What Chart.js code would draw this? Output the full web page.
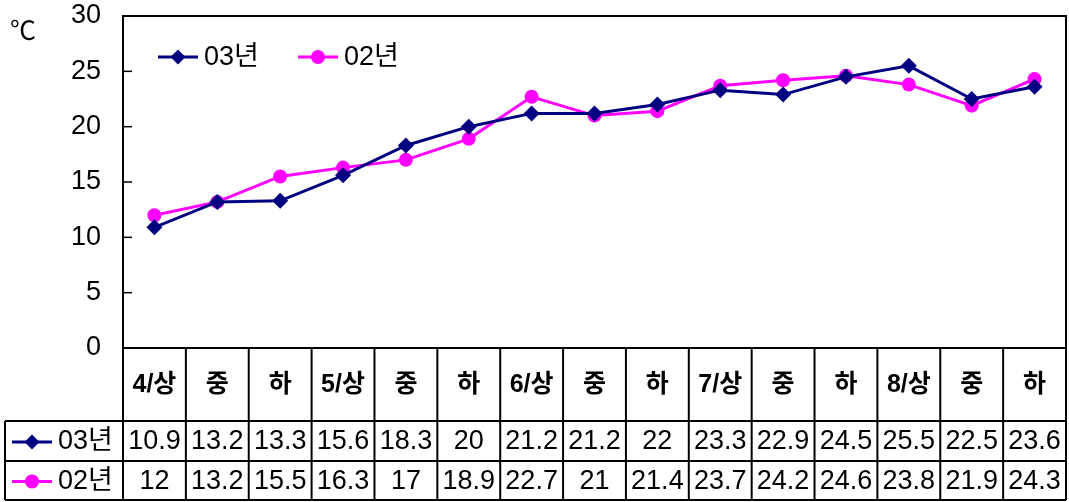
<!DOCTYPE html>
<html>
<head>
<meta charset="utf-8">
<script src="https://cdn.jsdelivr.net/npm/chart.js@4.4.1/dist/chart.umd.min.js"></script>
<style>
  body { margin: 0; background: #fff; }
  canvas { display: block; }
</style>
</head>
<body>
<canvas id="tempChart" width="1069" height="502"></canvas>
<script>
// categories (10-day periods) and series
const categories = ["4/상", "중", "하", "5/상", "중", "하", "6/상", "중", "하", "7/상", "중", "하", "8/상", "중", "하"];
const series03 = [10.9, 13.2, 13.3, 15.6, 18.3, 20, 21.2, 21.2, 22, 23.3, 22.9, 24.5, 25.5, 22.5, 23.6];
const series02 = [12, 13.2, 15.5, 16.3, 17, 18.9, 22.7, 21, 21.4, 23.7, 24.2, 24.6, 23.8, 21.9, 24.3];
const seriesNames = ["03년", "02년"];
const yTicks = [0, 5, 10, 15, 20, 25, 30];
const unitLabel = "℃";

const FONT = "'Liberation Sans', 'Noto Sans CJK KR', sans-serif";
const NAVY = "#000080";
const MAGENTA = "#FF00FF";

function drawMarker(ctx, style, x, y, r, color) {
  ctx.save();
  ctx.fillStyle = color;
  ctx.beginPath();
  if (style === "rectRot") {
    ctx.moveTo(x, y - r);
    ctx.lineTo(x + r, y);
    ctx.lineTo(x, y + r);
    ctx.lineTo(x - r, y);
    ctx.closePath();
  } else {
    ctx.arc(x, y, r, 0, Math.PI * 2);
  }
  ctx.fill();
  ctx.restore();
}

function legendSample(ctx, ds, x1, x2, y) {
  ctx.save();
  ctx.strokeStyle = ds.borderColor;
  ctx.lineWidth = 3;
  ctx.beginPath();
  ctx.moveTo(x1, y);
  ctx.lineTo(x2, y);
  ctx.stroke();
  ctx.restore();
  drawMarker(ctx, ds.pointStyle, (x1 + x2) / 2, y, ds.pointStyle === "rectRot" ? 7.5 : 7, ds.borderColor);
}

// frame, inward ticks, legend, unit label and the data table
const extrasPlugin = {
  id: "extras",
  afterDraw(chart) {
    const ctx = chart.ctx;
    const area = chart.chartArea;
    const xs = chart.scales.x;
    const ys = chart.scales.y;
    const datasets = chart.data.datasets;

    ctx.save();
    ctx.strokeStyle = "#000";
    ctx.lineWidth = 2;
    ctx.strokeRect(area.left, area.top, area.right - area.left, area.bottom - area.top);

    // inward tick marks
    yTicks.forEach(v => {
      const py = ys.getPixelForValue(v);
      ctx.beginPath();
      ctx.moveTo(area.left, py);
      ctx.lineTo(area.left + 9, py);
      ctx.lineWidth = 1.5;
      ctx.stroke();
    });

    // unit
    ctx.fillStyle = "#000";
    ctx.font = "26px " + FONT;
    ctx.textAlign = "center";
    ctx.textBaseline = "middle";
    ctx.fillText(unitLabel, 23, 33);

    // legend inside plot
    const legendY = 57;
    legendSample(ctx, datasets[0], 158, 198, legendY);
    legendSample(ctx, datasets[1], 298, 338, legendY);
    ctx.fillStyle = "#000";
    ctx.font = "27px " + FONT;
    ctx.textAlign = "left";
    ctx.fillText(datasets[0].label, 204, legendY + 1);
    ctx.fillText(datasets[1].label, 344, legendY + 1);

    // data table
    const n = categories.length;
    const colW = (area.right - area.left) / n;
    const top = area.bottom;
    const headBottom = 421;
    const row1Bottom = 461;
    const tableBottom = 500;
    const tableLeft = 5;

    ctx.strokeStyle = "#000";
    ctx.lineWidth = 2;
    for (let i = 0; i <= n; i++) {
      const px = area.left + i * colW;
      ctx.beginPath();
      ctx.moveTo(px, top);
      ctx.lineTo(px, tableBottom);
      ctx.stroke();
    }
    [headBottom, row1Bottom, tableBottom].forEach(py => {
      ctx.beginPath();
      ctx.moveTo(tableLeft, py);
      ctx.lineTo(area.right, py);
      ctx.stroke();
    });
    ctx.beginPath();
    ctx.moveTo(tableLeft, headBottom);
    ctx.lineTo(tableLeft, tableBottom);
    ctx.stroke();

    ctx.fillStyle = "#000";
    ctx.textAlign = "center";
    ctx.textBaseline = "middle";
    ctx.font = "bold 25px " + FONT;
    categories.forEach((c, i) => {
      ctx.fillText(c, xs.getPixelForValue(i), (top + headBottom) / 2 + 1);
    });

    ctx.font = "27px " + FONT;
    const rows = [[headBottom, row1Bottom], [row1Bottom, tableBottom]];
    datasets.forEach((ds, k) => {
      const cy = (rows[k][0] + rows[k][1]) / 2 + 1;
      ds.data.forEach((v, i) => {
        ctx.fillText(String(v), xs.getPixelForValue(i), cy);
      });
      legendSample(ctx, ds, 12, 52, cy);
      ctx.textAlign = "left";
      ctx.fillText(ds.label, 58, cy);
      ctx.textAlign = "center";
    });
    ctx.restore();
  }
};

new Chart(document.getElementById("tempChart").getContext("2d"), {
  type: "line",
  data: {
    labels: categories,
    datasets: [
      {
        label: seriesNames[0],
        data: series03,
        borderColor: NAVY,
        backgroundColor: NAVY,
        borderWidth: 3,
        pointStyle: "rectRot",
        pointRadius: 8,
        pointBorderWidth: 0,
        tension: 0
      },
      {
        label: seriesNames[1],
        data: series02,
        borderColor: MAGENTA,
        backgroundColor: MAGENTA,
        borderWidth: 3,
        pointStyle: "circle",
        pointRadius: 7,
        pointBorderWidth: 0,
        tension: 0
      }
    ]
  },
  options: {
    responsive: false,
    animation: false,
    devicePixelRatio: 1,
    layout: { autoPadding: false, padding: { left: 0, top: 16, right: 3, bottom: 154 } },
    plugins: { legend: { display: false }, tooltip: { enabled: false } },
    scales: {
      x: { display: false, offset: true },
      y: {
        min: 0,
        max: 30,
        afterFit(scale) {
          scale.width = 123;
          scale.paddingTop = 0;
          scale.paddingBottom = 0;
          scale.paddingLeft = 0;
          scale.paddingRight = 0;
        },
        grid: { display: false },
        border: { display: false },
        ticks: {
          stepSize: 5,
          color: "#000",
          padding: 14,
          font: { family: FONT, size: 27 }
        }
      }
    }
  },
  plugins: [extrasPlugin]
});
</script>
</body>
</html>
